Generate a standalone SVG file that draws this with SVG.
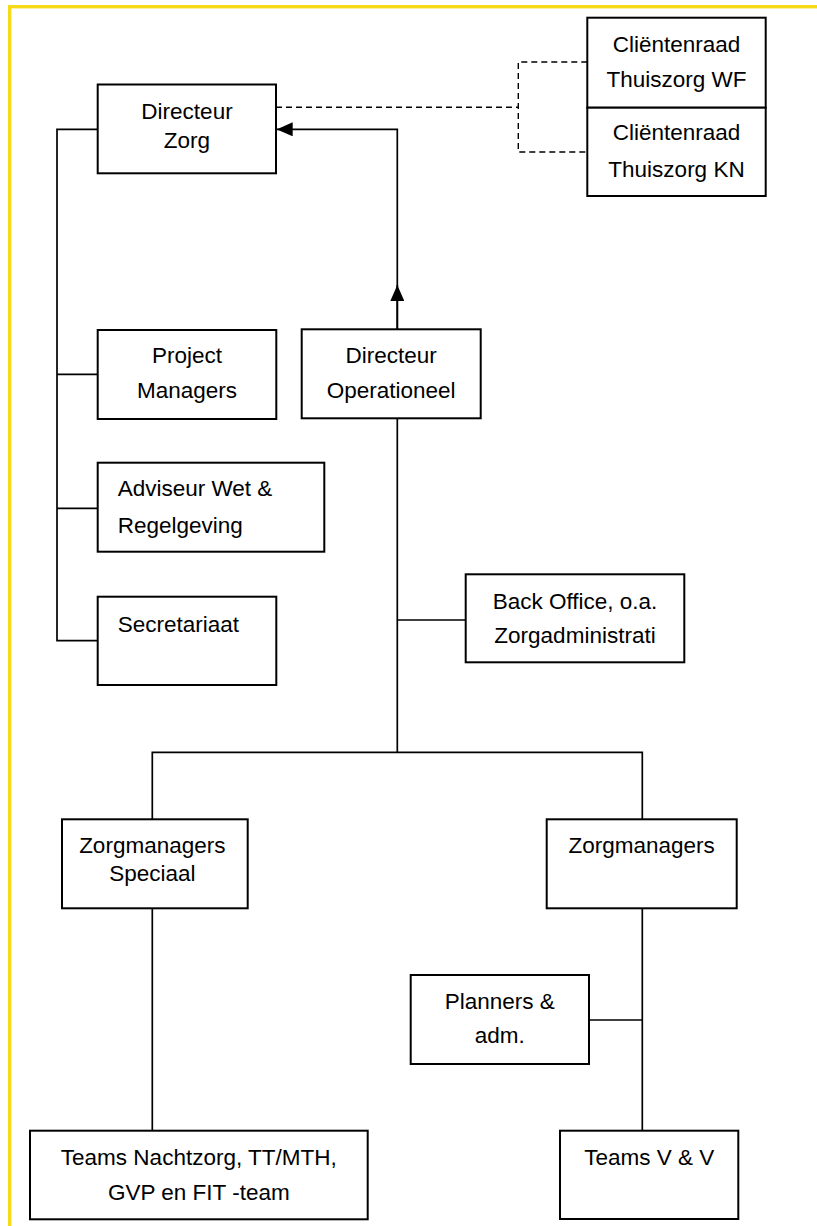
<svg xmlns="http://www.w3.org/2000/svg" width="817" height="1226" viewBox="0 0 817 1226">
  <defs>
    <style>
      .box { fill: #ffffff; stroke: #000000; stroke-width: 2; }
      .ln { fill: none; stroke: #000000; stroke-width: 1.7; }
      .dash { fill: none; stroke: #000000; stroke-width: 1.4; stroke-dasharray: 6 4; }
      text { font-family: "Liberation Sans", Arial, sans-serif; font-size: 22.5px; fill: #000000; }
      .c { text-anchor: middle; }
      .l { text-anchor: start; }
    </style>
    <marker id="arrow" viewBox="0 0 16 14" refX="16" refY="7" markerWidth="16" markerHeight="14" markerUnits="userSpaceOnUse" orient="auto">
      <path d="M0,0 L16,7 L0,14 Z" fill="#000000"/>
    </marker>
  </defs>

  <rect x="0" y="0" width="817" height="1226" fill="#ffffff"/>
  <rect id="page-border" x="9.7" y="6.7" width="900" height="1300" fill="none" stroke="#F5DA1A" stroke-width="3.4"/>

  <g id="connectors">
    <!-- dashed links to client councils -->
    <path class="dash" d="M276 107.3 H518.3"/>
    <path class="dash" d="M587.3 62 H518.3 V152 H587.3"/>
    <!-- Directeur Operationeel to Directeur Zorg -->
    <path class="ln" d="M397.3 329.3 V129.3 H276.7" marker-end="url(#arrow)"/>
    <path class="ln" d="M397.3 329.3 V285" marker-end="url(#arrow)"/>
    <!-- staff of Directeur Zorg -->
    <path class="ln" d="M97.7 129.3 H57 V640.7 H97.7"/>
    <path class="ln" d="M57 374.3 H97.7"/>
    <path class="ln" d="M57 508.3 H97.7"/>
    <!-- Directeur Operationeel downward -->
    <path class="ln" d="M397.3 418.3 V752.3"/>
    <path class="ln" d="M397.3 620 H465.7"/>
    <path class="ln" d="M152.3 819.3 V752.3 H642.3 V819.3"/>
    <!-- Zorgmanagers Speciaal to Teams -->
    <path class="ln" d="M152.3 908.3 V1130.7"/>
    <!-- Zorgmanagers to Teams V & V -->
    <path class="ln" d="M642.3 908.3 V1130.7"/>
    <path class="ln" d="M589 1020 H642.3"/>
  </g>

  <g id="directeur-zorg">
    <rect class="box" x="97.7" y="84.5" width="178.3" height="88.8"/>
    <text class="c" x="187" y="119">Directeur</text>
    <text class="c" x="187" y="148.3">Zorg</text>
  </g>

  <g id="clientenraad-wf">
    <rect class="box" x="587.3" y="17.7" width="178.4" height="90"/>
    <text class="c" x="676.5" y="52.3">Cliëntenraad</text>
    <text class="c" x="676.5" y="87.3">Thuiszorg WF</text>
  </g>

  <g id="clientenraad-kn">
    <rect class="box" x="587.3" y="107.7" width="178.4" height="88.3"/>
    <text class="c" x="676.5" y="140.3">Cliëntenraad</text>
    <text class="c" x="676.5" y="176.7">Thuiszorg KN</text>
  </g>

  <g id="project-managers">
    <rect class="box" x="97.7" y="330" width="178.6" height="89"/>
    <text class="c" x="187" y="363.3">Project</text>
    <text class="c" x="187" y="398.3">Managers</text>
  </g>

  <g id="directeur-operationeel">
    <rect class="box" x="301.7" y="329.3" width="179" height="89"/>
    <text class="c" x="391.2" y="362.7">Directeur</text>
    <text class="c" x="391.2" y="398.3">Operationeel</text>
  </g>

  <g id="adviseur">
    <rect class="box" x="97.7" y="462.7" width="226.6" height="89"/>
    <text class="l" x="117.7" y="496">Adviseur Wet &amp;</text>
    <text class="l" x="117.7" y="532.7">Regelgeving</text>
  </g>

  <g id="secretariaat">
    <rect class="box" x="97.7" y="596.7" width="178.6" height="88.3"/>
    <text class="l" x="117.7" y="631.7">Secretariaat</text>
  </g>

  <g id="back-office">
    <rect class="box" x="465.7" y="574.3" width="218.6" height="88"/>
    <text class="c" x="575" y="609.3">Back Office, o.a.</text>
    <text class="c" x="575" y="642.7">Zorgadministrati</text>
  </g>

  <g id="zorgmanagers-speciaal">
    <rect class="box" x="62" y="819.3" width="185.7" height="89"/>
    <text class="c" x="152.3" y="852.7">Zorgmanagers</text>
    <text class="c" x="152.3" y="880.7">Speciaal</text>
  </g>

  <g id="zorgmanagers">
    <rect class="box" x="546.7" y="819.3" width="190" height="89"/>
    <text class="c" x="641.7" y="852.7">Zorgmanagers</text>
  </g>

  <g id="planners">
    <rect class="box" x="410.7" y="975" width="178.3" height="89"/>
    <text class="c" x="499.8" y="1009.3">Planners &amp;</text>
    <text class="c" x="499.8" y="1043.3">adm.</text>
  </g>

  <g id="teams-nachtzorg">
    <rect class="box" x="30" y="1130.7" width="337.7" height="88.6"/>
    <text class="c" x="198.8" y="1165">Teams Nachtzorg, TT/MTH,</text>
    <text class="c" x="198.8" y="1200">GVP en FIT -team</text>
  </g>

  <g id="teams-vv">
    <rect class="box" x="560" y="1130.7" width="178.3" height="88.3"/>
    <text class="c" x="649.2" y="1165">Teams V &amp; V</text>
  </g>
</svg>
